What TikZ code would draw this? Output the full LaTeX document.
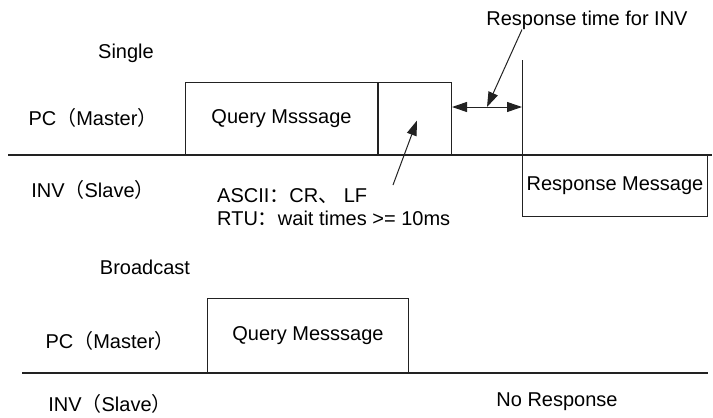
\documentclass[tikz,border=0pt]{standalone}
\usepackage{fontspec}
\setmainfont{Liberation Sans}
\newfontfamily\cjk{Noto Sans CJK SC}
\usepackage{tikz}
\usetikzlibrary{arrows.meta,positioning,calc}
\definecolor{lnblack}{HTML}{222222}
\newcommand{\lp}{{\cjk （}}
\newcommand{\rp}{{\cjk ）}}

\begin{document}
\begin{tikzpicture}[
  x=1pt, y=-1pt,
  lbl/.style={font=\fontsize{20}{23}\selectfont, inner sep=0pt},
  msgbox/.style={draw=lnblack, line width=1pt, inner sep=0pt,
                 font=\fontsize{20}{23}\selectfont},
  bus/.style={draw=lnblack, line width=1.2pt},
  dbl/.style={{Triangle[length=15pt,width=10pt]}-{Triangle[length=15pt,width=10pt]}, line width=1pt, lnblack},
  ptr/.style={-{Triangle[length=15pt,width=10pt]}, line width=1pt, lnblack}
]
\useasboundingbox (0,0) rectangle (713,418);

% Single
\node[lbl] (single) at (126,53) {Single};
\node[lbl] (pc1) at (93,118) {PC\lp Master\rp};
\node[lbl] (inv1) at (93,190) {INV\lp Slave\rp};
\coordinate (bus1s) at (8,155);
\coordinate (bus1e) at (712,155);
\node[msgbox, anchor=south west, minimum width=192, minimum height=72] (query1) at (185,155) {Query Msssage};
\node[msgbox, anchor=south west, minimum width=73, minimum height=72] (crlf) at (query1.south east) {};
\node[msgbox, anchor=north west, minimum width=185, minimum height=61] (resp) at (522,155) {Response Message};
\coordinate (vtop) at (522,60);
\coordinate (rtend) at (522,107);
\node[lbl] (rtlabel) at (587,20) {Response time for INV};
\node[lbl, align=left, anchor=west] (note) at (217,207) {ASCII{\cjk ：}CR{\cjk 、} LF\\RTU{\cjk ：}wait times >= 10ms};
\coordinate (notetip) at (393,185);

% Broadcast
\node[lbl] (bcast) at (145,267) {Broadcast};
\node[lbl] (pc2) at (110,341) {PC\lp Master\rp};
\node[lbl] (inv2) at (110,404) {INV\lp Slave\rp};
\coordinate (bus2s) at (22,373);
\coordinate (bus2e) at (708,373);
\node[msgbox, anchor=south west, minimum width=201, minimum height=74] (query2) at (207,373) {Query Messsage};
\node[lbl] (noresp) at (557,402) {No Response};

% Lines
\draw[bus] (bus1s) -- (bus1e);
\draw[bus] (bus2s) -- (bus2e);
\draw[msgbox] (vtop) -- (resp.north west);

% Arrows
\draw[dbl] (crlf.east |- rtend) -- (rtend);
\draw[ptr] (rtlabel.south -| vtop) -- ($(crlf.east |- rtend)!0.5!(rtend)$);
\draw[ptr] (notetip) -- ($(crlf.center)+(2,2)$);
\end{tikzpicture}
\end{document}
